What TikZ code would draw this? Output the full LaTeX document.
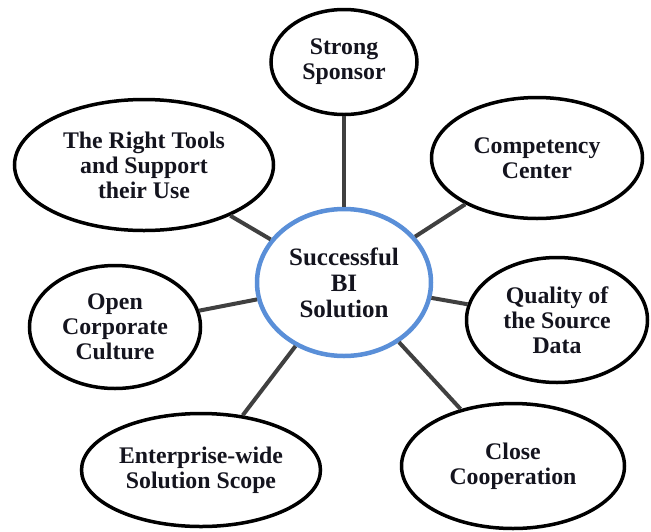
\documentclass[tikz,border=0pt]{standalone}
\usepackage{fontspec}
\setmainfont{Liberation Serif}
\usetikzlibrary{shapes.geometric}
\definecolor{ringblue}{HTML}{5A8FD8}
\definecolor{linkgray}{HTML}{404040}
\definecolor{inkdark}{HTML}{14141E}
\begin{document}
\begin{tikzpicture}[x=1pt,y=-1pt,
  factor/.style={ellipse, draw=black, line width=3.5pt, fill=white, inner sep=0pt,
    align=center, text=inkdark, font=\fontsize{23.8}{25}\selectfont\bfseries},
  hub/.style={ellipse, draw=ringblue, line width=4.5pt, fill=white, inner sep=0pt,
    align=center, text=inkdark, font=\fontsize{25}{26}\selectfont\bfseries},
  link/.style={draw=linkgray, line width=4pt}]
\useasboundingbox (0,0) rectangle (651,531);

% centre of the diagram
\node[hub, minimum width=174pt, minimum height=147pt] (hub) at (344,282.5)
  {Successful\\BI\\Solution};

% success factors around it
\node[factor, minimum width=146pt, minimum height=105pt] (sponsor) at (344,62)
  {Strong\\Sponsor};
\node[factor, minimum width=211pt, minimum height=121pt] (comp) at (537,158)
  {Competency\\Center};
\node[factor, minimum width=259pt, minimum height=131pt] (tools) at (144,165)
  {The Right Tools\\and Support\\their Use};
\node[factor, minimum width=171pt, minimum height=123pt] (culture) at (115,327)
  {Open\\Corporate\\Culture};
\node[factor, minimum width=181pt, minimum height=125pt] (quality) at (557,320)
  {Quality of\\the Source\\Data};
\node[factor, minimum width=239pt, minimum height=113pt] (scope) at (201,470)
  {Enterprise-wide\\Solution Scope};
\node[factor, minimum width=223pt, minimum height=125pt] (coop) at (513,466)
  {Close\\Cooperation};

% spokes
\foreach \f in {sponsor,comp,tools,culture,quality,scope,coop}
  \draw[link] (hub) -- (\f);
\end{tikzpicture}
\end{document}
